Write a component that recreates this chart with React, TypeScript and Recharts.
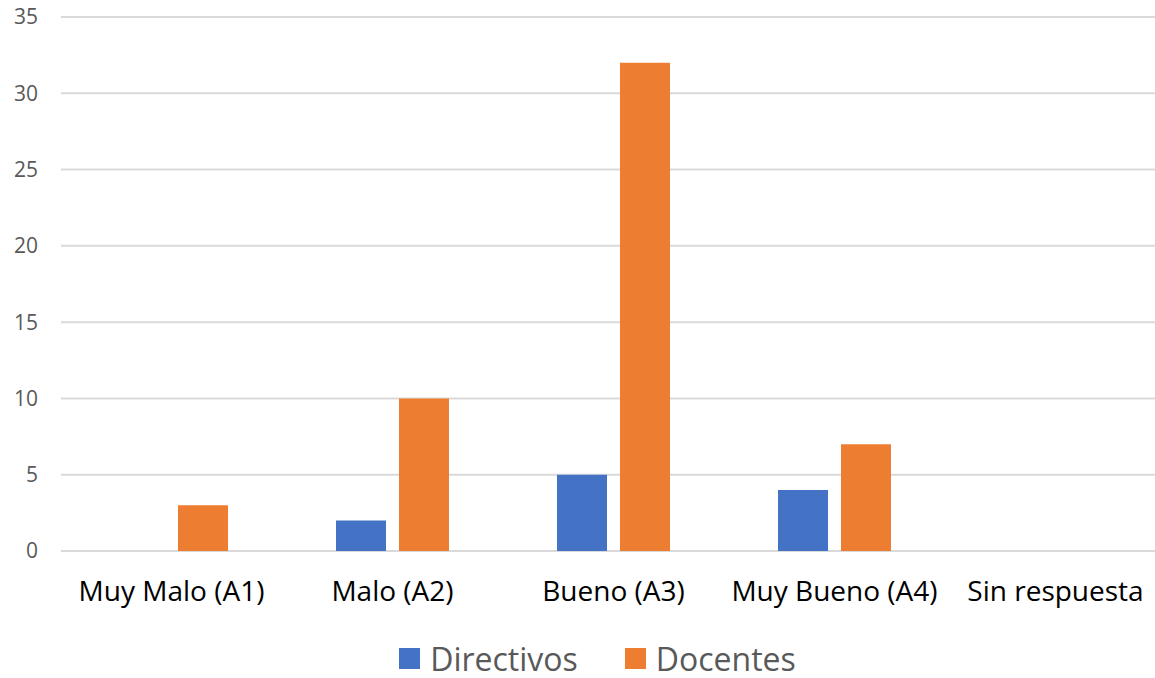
import { BarChart, Bar, XAxis, YAxis, CartesianGrid, Legend } from 'recharts';

const categories = ['Muy Malo (A1)', 'Malo (A2)', 'Bueno (A3)', 'Muy Bueno (A4)', 'Sin respuesta'];
const directivos = [0, 2, 5, 4, 0];
const docentes = [3, 10, 32, 7, 0];
const yTicks = [0, 5, 10, 15, 20, 25, 30, 35];

const data = categories.map((name, i) => ({
  name,
  Directivos: directivos[i],
  Docentes: docentes[i],
}));

const FONT = '"Open Sans", "Noto Sans", sans-serif';

function LegendContent() {
  const items = [
    { label: 'Directivos', color: '#4472C4' },
    { label: 'Docentes', color: '#ED7D31' },
  ];
  return (
    <div style={{ display: 'flex', justifyContent: 'center', alignItems: 'center', height: 40, fontFamily: FONT }}>
      {items.map((it, i) => (
        <div key={it.label} style={{ display: 'flex', alignItems: 'center', marginRight: i === 0 ? 47 : 0 }}>
          <div style={{ width: 21, height: 21, background: it.color, marginRight: 10 }} />
          <span style={{ fontSize: 32, color: '#595959' }}>{it.label}</span>
        </div>
      ))}
    </div>
  );
}

export default function App() {
  return (
    <div style={{ position: 'fixed', left: 0, top: 0, width: 1155, height: 678, overflow: 'hidden', background: '#fff' }}>
      <BarChart
        width={1170}
        height={678}
        data={data}
        margin={{ top: 17, right: 4, left: 0, bottom: 0 }}
        barSize={50}
        barGap={13}
      >
        <CartesianGrid vertical={false} stroke="#d9d9d9" strokeWidth={2} />
        <XAxis
          dataKey="name"
          axisLine={false}
          tickLine={false}
          tickSize={0}
          tickMargin={30}
          height={87}
          interval={0}
          tick={{ fontSize: 28, fill: '#000', fontFamily: FONT }}
        />
        <YAxis
          width={61}
          domain={[0, 35]}
          ticks={yTicks}
          axisLine={false}
          tickLine={false}
          tickSize={0}
          tickMargin={23}
          tick={{ fontSize: 21, fill: '#595959', fontFamily: FONT }}
        />
        <Legend
          verticalAlign="bottom"
          height={40}
          content={<LegendContent />}
          wrapperStyle={{ top: 638, left: 20, width: 1155 }}
        />
        <Bar dataKey="Directivos" fill="#4472C4" isAnimationActive={false} />
        <Bar dataKey="Docentes" fill="#ED7D31" isAnimationActive={false} />
      </BarChart>
    </div>
  );
}
